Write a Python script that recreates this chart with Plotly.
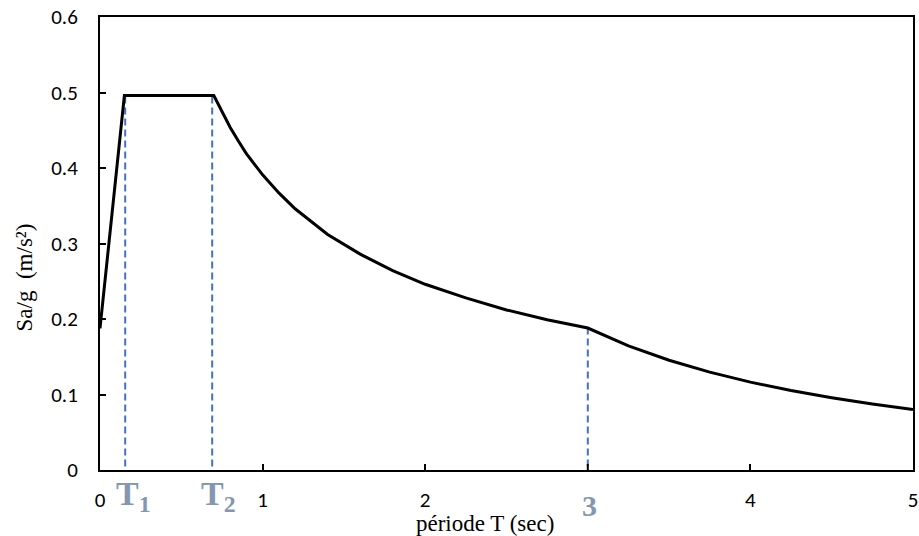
import plotly.graph_objects as go

# Design response spectrum Sa/g versus period T
period = [0.0, 0.15, 0.7, 0.75, 0.8, 0.85, 0.9, 1.0, 1.1, 1.2, 1.4, 1.6, 1.8, 2.0, 2.25,
          2.5, 2.75, 3.0, 3.25, 3.5, 3.75, 4.0, 4.25, 4.5, 4.75, 5.0]
sa_g = [0.1875, 0.496, 0.496, 0.474, 0.454, 0.436, 0.419, 0.391, 0.367, 0.346, 0.312,
        0.286, 0.264, 0.246, 0.228, 0.212, 0.199, 0.188, 0.1645, 0.1454, 0.1296, 0.1164,
        0.1052, 0.0957, 0.0874, 0.0802]

# Characteristic periods marked with dashed guides
marker_periods = [0.155, 0.69, 3.0]
marker_values = [0.496, 0.496, 0.188]
marker_labels = ["T<sub>1</sub>", "T<sub>2</sub>", "3"]
marker_label_x = [0.203, 0.731, 3.01]

x_ticks = [0, 1, 2, 4, 5]
x_tick_text = ["0", "1", "2", "4", "5"]
y_ticks = [0, 0.1, 0.2, 0.3, 0.4, 0.5, 0.6]
y_tick_text = ["0", "0.1", "0.2", "0.3", "0.4", "0.5", "0.6"]

fig = go.Figure()
fig.add_trace(go.Scatter(x=period, y=sa_g, mode="lines",
                         line=dict(color="black", width=3), showlegend=False,
                         hoverinfo="skip"))

for t, v in zip(marker_periods, marker_values):
    fig.add_shape(type="line", xref="x", yref="y", x0=t, x1=t, y0=-0.01, y1=v,
                  line=dict(color="#4472C4", width=2, dash="7px,4px"), layer="below")

# Period labels below the axis (paper y: 0 is the x axis, 1 the top frame)
label_y = [-0.058, -0.058, -0.078]
label_sizes = [34, 34, 30]
for txt, lx, ly, sz in zip(marker_labels, marker_label_x, label_y, label_sizes):
    fig.add_annotation(text=f"<b>{txt}</b>", x=lx, y=ly, xref="x", yref="paper",
                       showarrow=False, xanchor="center", yanchor="middle",
                       font=dict(family="Liberation Serif, Times New Roman, serif",
                                 size=sz, color="#8497B0"))

fig.add_annotation(text="période T (sec)", x=0.4736, y=-0.118, xref="paper", yref="paper",
                   showarrow=False, xanchor="center", yanchor="middle",
                   font=dict(family="Liberation Serif, Times New Roman, serif",
                             size=23, color="black"))
fig.add_annotation(text="Sa/g  (m/s²)", x=-0.0923, y=0.425, xref="paper", yref="paper",
                   showarrow=False, xanchor="center", yanchor="middle", textangle=-90,
                   font=dict(family="Liberation Serif, Times New Roman, serif",
                             size=23, color="black"))

axis_font = dict(family="Carlito, Lato, sans-serif", size=21, color="black")
fig.update_xaxes(range=[0, 5], tickvals=x_ticks, ticktext=x_tick_text,
                 showgrid=False, zeroline=False, showline=True, linecolor="black",
                 linewidth=2, mirror=True, ticks="inside", ticklen=6, tickwidth=2,
                 tickcolor="black", tickfont=axis_font, ticklabelstandoff=10,
                 automargin=False)
fig.update_yaxes(range=[0, 0.6], tickvals=y_ticks, ticktext=y_tick_text,
                 showgrid=False, zeroline=False, showline=True, linecolor="black",
                 linewidth=2, mirror=True, ticks="inside", ticklen=6, tickwidth=2,
                 tickcolor="black", tickfont=axis_font, ticklabelstandoff=16,
                 automargin=False)

# Small tick at T = 3 on the period axis (its label is the bold "3" below)
fig.add_shape(type="line", xref="x", yref="y", x0=3, x1=3, y0=0, y1=0.008,
              line=dict(color="black", width=2))

fig.update_layout(width=919, height=536, margin=dict(l=100, r=6, t=17, b=66),
                  plot_bgcolor="white", paper_bgcolor="white")

fig.write_html("out.html")
